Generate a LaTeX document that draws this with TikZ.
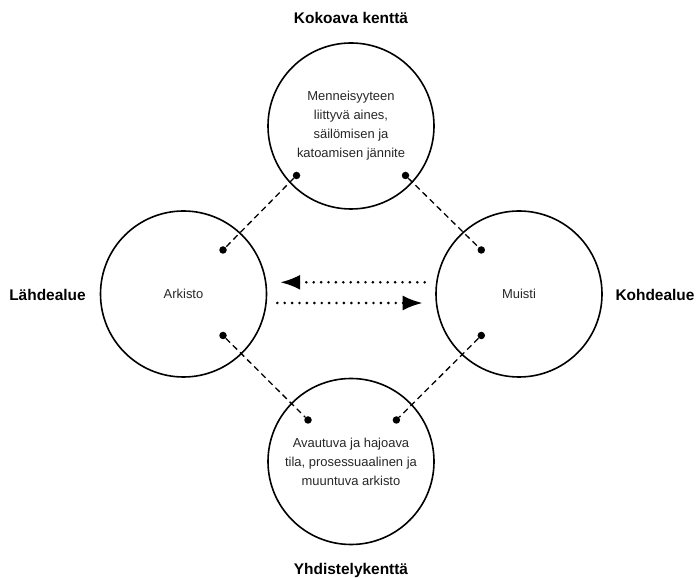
\documentclass[tikz,border=0pt]{standalone}
\usepackage{fontspec}
\setmainfont{Liberation Sans}
\usetikzlibrary{arrows.meta}
\begin{document}
\begin{tikzpicture}[
        x=1bp, y=1bp,
        circlenode/.style={circle, draw=black, line width=1.6bp, minimum size=166bp, inner sep=0pt, align=center, text=black!85, font={\fontsize{13}{19}\selectfont}},
        title/.style={anchor=base, font={\fontsize{15.5}{18}\selectfont\bfseries}},
        endpoint/.style={circle, fill=black, inner sep=0pt, minimum size=7.5bp},
        dashlink/.style={line width=1.3bp, dash pattern=on 6bp off 4bp},
        flowarrow/.style={line width=2.9bp, line cap=round, dash pattern=on 0bp off 7.4bp, -{Latex[length=20bp,width=15bp]}}
    ]
        \useasboundingbox (0,0) rectangle (697,578);

        \node (kokoava) [circlenode] at (351,452) {Menneisyyteen\\liittyvä aines,\\säilömisen ja\\katoamisen jännite};
        \node (arkisto) [circlenode] at (183.5,284) {Arkisto};
        \node (muisti) [circlenode] at (519,284) {Muisti};
        \node (yhdistely) [circlenode] at (351,116.5) {Avautuva ja hajoava\\tila, prosessuaalinen ja\\muuntuva arkisto};

        \node (tkokoava) [title] at (351,554) {Kokoava kenttä};
        \node (tyhdistely) [title] at (351,3) {Yhdistelykenttä};
        \node (tlahde) [title] at (47.5,277.5) {Lähdealue};
        \node (tkohde) [title] at (655,277.5) {Kohdealue};

        \node (k1) [endpoint] at ([shift={(-54.5,-49.5)}]kokoava.center) {};
        \node (k2) [endpoint] at ([shift={(54.5,-49.5)}]kokoava.center) {};
        \node (a1) [endpoint] at ([shift={(39.5,44)}]arkisto.center) {};
        \node (a2) [endpoint] at ([shift={(39.5,-41.5)}]arkisto.center) {};
        \node (m1) [endpoint] at ([shift={(-37.7,44)}]muisti.center) {};
        \node (m2) [endpoint] at ([shift={(-37.7,-41.5)}]muisti.center) {};
        \node (y1) [endpoint] at ([shift={(-43,41.5)}]yhdistely.center) {};
        \node (y2) [endpoint] at ([shift={(45.4,41.5)}]yhdistely.center) {};

        \draw [dashlink] (k1) -- (a1);
        \draw [dashlink] (k2) -- (m1);
        \draw [dashlink] (a2) -- (y1);
        \draw [dashlink] (m2) -- (y2);

        \draw [flowarrow] ([xshift=-10.5bp,yshift=11.7bp]muisti.west) -- ([xshift=12.8bp,yshift=11.7bp]arkisto.east);
        \draw [flowarrow] ([xshift=10bp,yshift=-9bp]arkisto.east) -- ([xshift=-12.5bp,yshift=-9bp]muisti.west);
    \end{tikzpicture}
\end{document}
